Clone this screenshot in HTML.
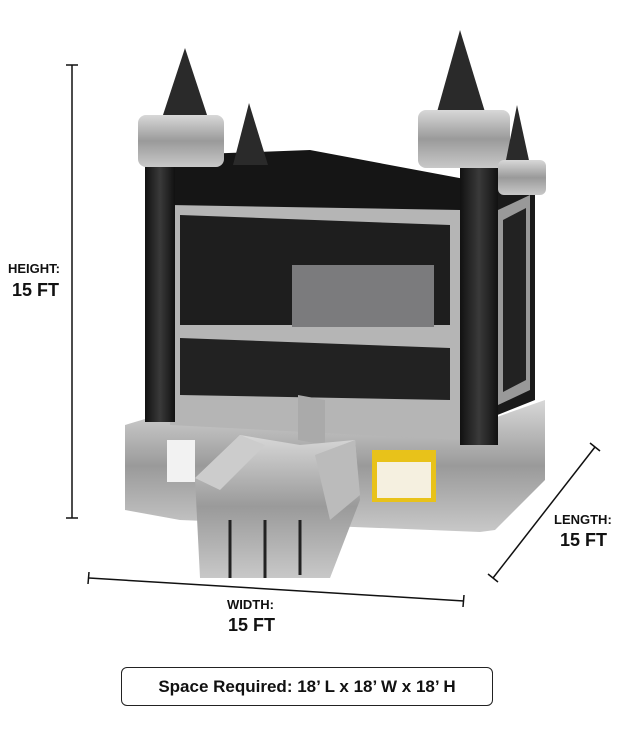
<!DOCTYPE html>
<html><head><style>
body{margin:0;width:626px;height:750px;background:#fff;position:relative;font-family:"Liberation Sans",sans-serif;overflow:hidden}
.t{position:absolute;color:#111;font-size:13px;font-weight:bold;line-height:1}
.b{font-size:18px}
.box{position:absolute;left:121px;top:667px;width:372px;height:39px;border:1.5px solid #222;border-radius:6px;box-sizing:border-box;display:flex;align-items:center;justify-content:center;font-weight:bold;font-size:17px;color:#111}
</style></head><body>
<svg width="626" height="750" style="position:absolute;left:0;top:0">
<defs>
<linearGradient id="g" x1="0" y1="0" x2="0" y2="1"><stop offset="0" stop-color="#d8d8d8"/><stop offset=".5" stop-color="#9a9a9a"/><stop offset="1" stop-color="#c8c8c8"/></linearGradient>
<linearGradient id="k" x1="0" y1="0" x2="1" y2="0"><stop offset="0" stop-color="#111"/><stop offset=".5" stop-color="#3a3a3a"/><stop offset="1" stop-color="#111"/></linearGradient>
</defs>
<g stroke="#111" stroke-width="1.5">
<line x1="72" y1="65" x2="72" y2="518"/><line x1="66" y1="65" x2="78" y2="65"/><line x1="66" y1="518" x2="78" y2="518"/>
<line x1="89" y1="578" x2="464" y2="601"/><line x1="89" y1="572" x2="88" y2="584"/><line x1="464" y1="595" x2="463" y2="607"/>
<line x1="493" y1="578" x2="595" y2="447"/><line x1="488" y1="574" x2="498" y2="582"/><line x1="590" y1="443" x2="600" y2="451"/>
</g>
<!-- base -->
<polygon points="125,425 175,410 460,430 545,400 545,480 495,530 480,532 180,520 125,510" fill="url(#g)"/>
<!-- body right side -->
<polygon points="460,190 535,170 535,400 460,430" fill="#1a1a1a"/>
<polygon points="498,210 530,195 530,390 498,405" fill="#999"/>
<polygon points="503,220 526,208 526,380 503,392" fill="#222"/>
<!-- body front -->
<polygon points="150,165 175,155 310,150 470,180 470,440 150,420" fill="#151515"/>
<polygon points="170,205 460,210 460,440 170,425" fill="#b5b5b5"/>
<polygon points="180,215 450,225 450,325 180,325" fill="#1e1e1e"/>
<rect x="292" y="265" width="142" height="62" fill="#7b7b7d"/>
<polygon points="180,338 450,348 450,400 180,395" fill="#222"/>
<!-- pillars -->
<rect x="145" y="160" width="30" height="262" fill="url(#k)"/>
<rect x="460" y="160" width="38" height="285" fill="url(#k)"/>
<!-- towers -->
<polygon points="185,48 162,118 208,118" fill="#2a2a2a"/>
<rect x="138" y="115" width="86" height="52" rx="8" fill="url(#g)"/>
<polygon points="249,103 233,165 268,165" fill="#2a2a2a"/>
<polygon points="460,30 437,112 485,112" fill="#2a2a2a"/>
<rect x="418" y="110" width="92" height="58" rx="8" fill="url(#g)"/>
<polygon points="517,105 505,165 530,165" fill="#2a2a2a"/>
<rect x="498" y="160" width="48" height="35" rx="6" fill="url(#g)"/>
<!-- labels on base -->
<rect x="167" y="440" width="28" height="42" fill="#f2f2f2"/>
<rect x="372" y="450" width="64" height="52" fill="#e8c21a"/>
<rect x="377" y="462" width="54" height="36" fill="#f5f0e0"/>
<!-- slide -->
<polygon points="298,395 325,400 325,445 298,440" fill="#aaa"/>
<polygon points="195,478 240,435 300,445 355,440 360,500 330,578 200,578" fill="url(#g)"/>
<polygon points="195,478 240,435 265,445 220,490" fill="#ccc"/>
<polygon points="315,455 355,440 360,495 330,520" fill="#bbb"/>
<g stroke="#222" stroke-width="3"><line x1="230" y1="520" x2="230" y2="578"/><line x1="265" y1="520" x2="265" y2="578"/><line x1="300" y1="520" x2="300" y2="575"/></g>
</svg>
<div class="t" style="left:8px;top:262px">HEIGHT:</div>
<div class="t b" style="left:12px;top:281px">15 FT</div>
<div class="t" style="left:227px;top:598px">WIDTH:</div>
<div class="t b" style="left:228px;top:616px">15 FT</div>
<div class="t" style="left:554px;top:513px">LENGTH:</div>
<div class="t b" style="left:560px;top:531px">15 FT</div>
<div class="box">Space Required: 18’ L x 18’ W x 18’ H</div>
</body></html>
